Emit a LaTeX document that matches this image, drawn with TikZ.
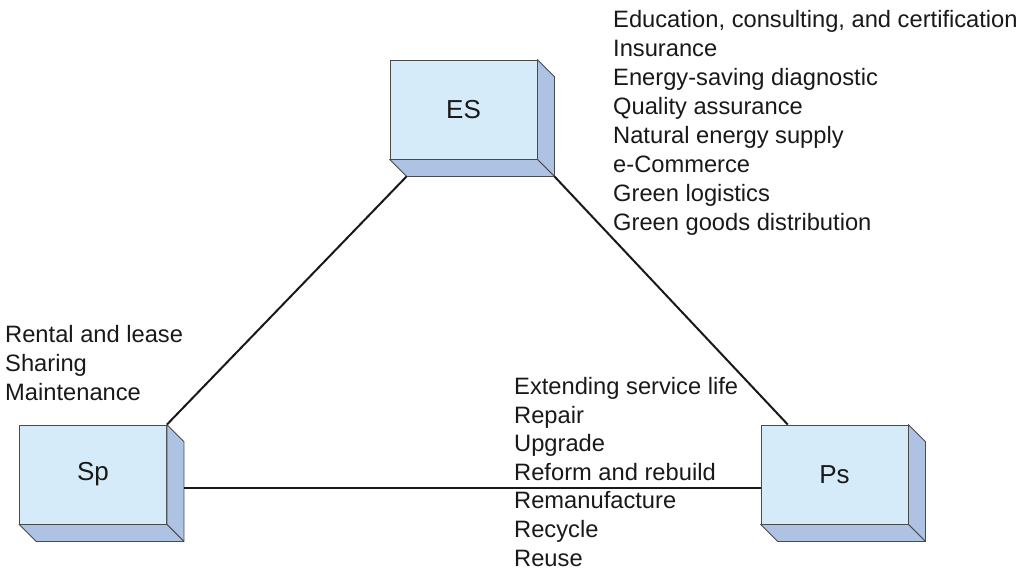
\documentclass[tikz,border=0pt]{standalone}
\usepackage{fontspec}
\setmainfont{Liberation Sans}
\usetikzlibrary{calc}
\definecolor{faceblue}{HTML}{D6EBF9}
\definecolor{sideblue}{HTML}{AEC3E3}
\definecolor{edgegray}{HTML}{4A4A4A}
\tikzset{
    unit/.style = {rectangle, draw=edgegray, fill=faceblue, line width=0.8pt, minimum width=147pt, minimum height=99pt, inner sep=0pt, text=black!90, font=\fontsize{26}{30}\selectfont},
    side/.style = {draw=edgegray, fill=sideblue, line width=0.8pt, line join=round},
    link/.style = {line width=2pt, black!90},
    items/.style = {align=left, anchor=base west, inner sep=0pt, text=black!90, font=\fontsize{23.7}{28.8}\selectfont}
}
% depth faces of a unit box
\newcommand{\extrude}[1]{%
    \coordinate (#1-bl) at ($(#1.south west)+(17,17)$);
    \coordinate (#1-br) at ($(#1.south east)+(17,17)$);
    \draw [side] (#1.north east) -- ++(17,17) -- (#1-br) -- (#1.south east) -- cycle;
    \draw [side] (#1.south west) -- (#1-bl) -- (#1-br) -- (#1.south east) -- cycle;
}
\begin{document}
\begin{tikzpicture}[x=1pt, y=-1pt]
    \useasboundingbox (0,0) rectangle (1031,570);

    % boxes
    \node [unit] (ES) at (463.5,109.5) {ES};
    \node [unit] (Sp) at (93,474.5) {Sp};
    \node [unit] (Ps) at (834.5,474.5) {Ps};
    \extrude{ES}
    \extrude{Sp}
    \extrude{Ps}

    % connectors
    \coordinate (base) at ($(Sp.east)+(17,13.5)$);
    \draw [link] (Sp.north east) -- (ES-bl);
    \draw [link] (ES-br) -- (Ps);
    \draw [link] (base) -- (base -| Ps.west);

    % service lists (placed at the baseline of their last line)
    \node [items] (esList) at (613,230) [font=\fontsize{23.7}{29}\selectfont]
        {Education, consulting, and certification\\Insurance\\Energy-saving diagnostic\\Quality assurance\\Natural energy supply\\e-Commerce\\Green logistics\\Green goods distribution};
    \node [items] (spList) at (5,400.5)
        {Rental and lease\\Sharing\\Maintenance};
    \node [items] (psList) at (514,566) [font=\fontsize{23.7}{28.6}\selectfont]
        {Extending service life\\Repair\\Upgrade\\Reform and rebuild\\Remanufacture\\Recycle\\Reuse};
\end{tikzpicture}
\end{document}
